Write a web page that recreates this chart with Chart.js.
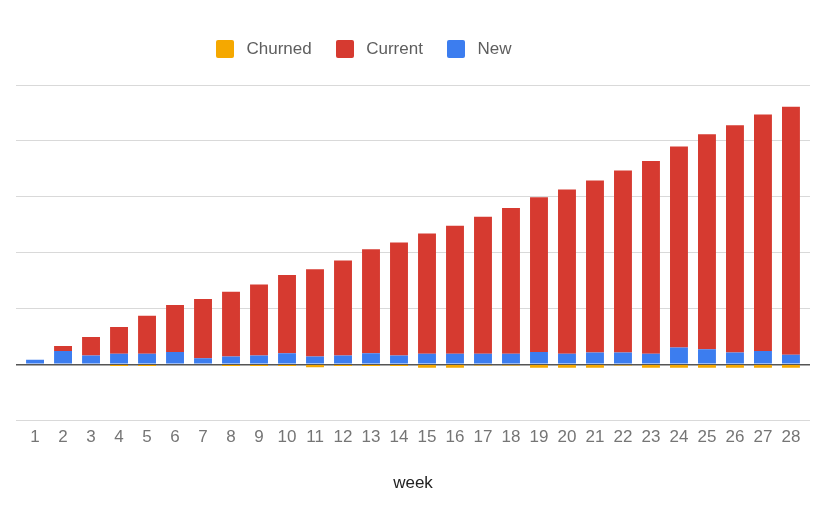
<!DOCTYPE html>
<html>
<head>
<meta charset="utf-8">
<script src="https://cdn.jsdelivr.net/npm/chart.js@4"></script>
<style>
  body { margin: 0; background: #fff; }
  #wrap { position: relative; width: 832px; height: 520px; }
  #legend {
    position: absolute; left: 216px; top: 39px;
    display: flex; align-items: center;
    font-family: "Liberation Sans", Arial, sans-serif; font-size: 17px; color: #5e5e5e;
  }
  .item { display: flex; align-items: center; margin-right: 24px; }
  .box { width: 18px; height: 18px; border-radius: 2px; margin-right: 12.5px; }
</style>
</head>
<body>
<div id="wrap">
  <canvas id="myChart"></canvas>
  <div id="legend"></div>
</div>
<script>
const weeks = [1,2,3,4,5,6,7,8,9,10,11,12,13,14,15,16,17,18,19,20,21,22,23,24,25,26,27,28]
const churned = [0,0,0,-3,-3,0,0,-3,-3,-3,-5,-3,-3,-3,-6,-6,-2,-2,-6,-6,-6,-2,-6,-6,-6,-6,-6,-6]
const current = [0,9,33,48,68,84,106,116,127,140,156,170,186,202,215,229,245,261,277,294,308,326,345,360,385,407,423,444]
const newUsers = [8,24,16,19,19,22,11,14,16,20,14,16,20,16,19,19,19,19,22,19,21,21,19,30,27,21,24,17]

const ctx = document.getElementById('myChart')

const data = {
    labels: weeks,
    datasets: [
        { label: 'Churned', data: churned, backgroundColor: '#f5a800', order: 2 },
        { label: 'Current', data: current, backgroundColor: '#d63a30', order: 1 },
        { label: 'New', data: newUsers, backgroundColor: '#3c7def', order: 0 }
    ]
}

const config = {
    type: 'bar',
    data: data,
    options: {
        responsive: true,
        maintainAspectRatio: false,
        animation: false,
        datasets: { bar: { barPercentage: 0.64, categoryPercentage: 1 } },
        layout: { padding: { top: 85, left: 16, right: 22, bottom: 26 } },
        plugins: {
            legend: { display: false },
            tooltip: { enabled: false }
        },
        scales: {
            x: {
                type: 'linear',
                stacked: true,
                offset: false,
                // gridlines run a bit wider than the bars
                min: 0.32,
                max: 28.68,
                grid: { display: false, drawTicks: false },
                border: { display: false },
                ticks: {
                    stepSize: 1, includeBounds: false, autoSkip: false, maxRotation: 0,
                    color: '#757575', padding: 7,
                    font: { family: '"Liberation Sans", Arial', size: 17 }
                },
                title: {
                    display: true, text: 'week', color: '#222',
                    padding: { top: 19, bottom: 0 },
                    font: { family: '"Liberation Sans", Arial', size: 17 }
                }
            },
            y: {
                stacked: true,
                min: -100,
                max: 500,
                ticks: { display: false, stepSize: 100 },
                border: { display: false },
                grid: {
                    drawTicks: false,
                    color: c => c.tick && c.tick.value === 0 ? '#555' : '#d9d9d9',
                    lineWidth: c => c.tick && c.tick.value === 0 ? 1.5 : 1
                }
            }
        }
    }
}

const myChart = new Chart(ctx, config)

// legend in dataset order
const legend = document.getElementById('legend')
for (let ds of myChart.data.datasets) {
    let item = document.createElement('div')
    item.className = 'item'
    let box = document.createElement('div')
    box.className = 'box'
    box.style.background = ds.backgroundColor
    let txt = document.createElement('span')
    txt.textContent = ds.label
    item.appendChild(box)
    item.appendChild(txt)
    legend.appendChild(item)
}
</script>
</body>
</html>
